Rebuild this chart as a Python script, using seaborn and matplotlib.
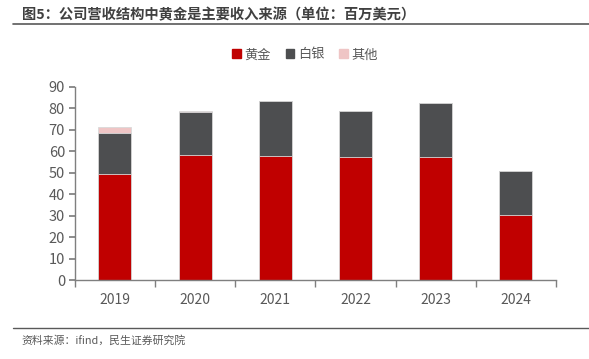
import numpy as np
import pandas as pd
import matplotlib
matplotlib.use("Agg")
import matplotlib.pyplot as plt
from matplotlib.patches import Patch
from matplotlib.lines import Line2D
import seaborn as sns

years = ["2019", "2020", "2021", "2022", "2023", "2024"]
gold = [49.4, 58.4, 57.6, 57.3, 57.3, 30.4]
silver = [19.1, 19.7, 25.9, 21.3, 25.0, 20.2]
other = [2.6, 0.7, 0.0, 0.0, 0.0, 0.0]

sns.set_theme(style="white")
plt.rcParams["font.family"] = ["Noto Sans CJK SC", "DejaVu Sans"]

df = pd.DataFrame({"year": years, "gold": gold, "silver": silver, "other": other})
df["s2"] = df["gold"] + df["silver"]
df["s3"] = df["s2"] + df["other"]

c_gold = "#C00000"
c_silver = "#4D4E50"
c_other = "#EFC5C5"
txt = "#595959"

fig = plt.figure(figsize=(5.89, 3.59), dpi=100)
ax = fig.add_axes([0.127, 0.22, 0.817, 0.538])

# stacked look: draw cumulative totals, tallest first
for col, c in [("s3", c_other), ("s2", c_silver), ("gold", c_gold)]:
    sns.barplot(data=df, x="year", y=col, color=c, width=0.41, saturation=1,
                edgecolor="#D9D9D9", linewidth=0.6, ax=ax)

ax.set_ylim(0, 90)
ax.set_xlim(-0.5, 5.5)
ax.set_yticks(range(0, 91, 10))
ax.set_xlabel("")
ax.set_ylabel("")
for s in ["top", "right"]:
    ax.spines[s].set_visible(False)
for s in ["left", "bottom"]:
    ax.spines[s].set_color("#7F7F7F")
    ax.spines[s].set_linewidth(1.0)
ax.tick_params(axis="y", left=True, length=4, color="#7F7F7F", labelsize=10.5, labelcolor=txt, pad=3)
ax.tick_params(axis="x", which="major", length=0, labelsize=10, labelcolor=txt, pad=9)
ax.set_xticks(np.arange(-0.5, 6.0, 1.0), minor=True)
ax.tick_params(axis="x", which="minor", bottom=True, length=5, color="#7F7F7F")

handles = [Patch(color=c_gold, label="黄金"), Patch(color=c_silver, label="白银"),
           Patch(color=c_other, label="其他")]
fig.legend(handles=handles, loc="center", bbox_to_anchor=(0.518, 0.847), ncol=3, frameon=False,
           fontsize=9.5, handlelength=0.65, handleheight=0.65, handletextpad=0.3, columnspacing=1.1,
           labelcolor=txt)

fig.text(0.037, 0.958, "图5：公司营收结构中黄金是主要收入来源（单位：百万美元）", fontsize=10.3,
         fontweight="bold", color="#404040", va="center")
fig.add_artist(Line2D([0.022, 1.0], [0.932, 0.932], color="#595959", linewidth=1.2))
fig.add_artist(Line2D([0.022, 1.0], [0.087, 0.087], color="#595959", linewidth=1.0))
fig.text(0.036, 0.052, "资料来源：ifind，民生证券研究院", fontsize=7.8, color=txt, va="center")

fig.savefig("out.png", dpi=100)
